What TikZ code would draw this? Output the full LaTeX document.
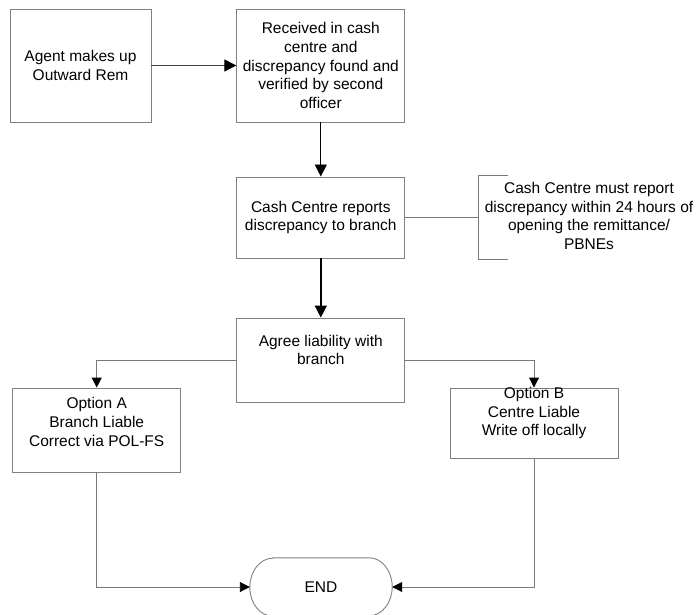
\documentclass[tikz,border=0pt]{standalone}
\usepackage{fontspec}
\setmainfont{Liberation Sans}
\usetikzlibrary{arrows.meta}
\definecolor{boxgray}{RGB}{128,128,128}
\definecolor{linegray}{RGB}{120,120,120}
\tikzset{
  box/.style={draw=boxgray, line width=0.9pt, minimum width=168pt, inner sep=0pt, align=center},
  txt/.style={inner sep=0pt, align=center},
  conn/.style={draw=linegray, line width=0.9pt},
  arr/.style={conn, -{Triangle[length=10pt,width=10pt,color=black]}},
  bigarr/.style={conn, -{Triangle[length=12pt,width=12pt,color=black]}},
}
\begin{document}
\begin{tikzpicture}[x=1pt,y=1pt, font=\fontsize{15.5}{18.8}\selectfont]
\useasboundingbox (0,0) rectangle (700,614);
% boxes
\node[box, minimum width=141pt, minimum height=113pt] (agent) at (80.5,548.5) {Agent makes up\\Outward Rem};
\node[box, minimum height=113pt] (recv) at (320.8,548.5) {Received in cash\\centre and\\discrepancy found and\\verified by second\\officer};
\node[box, minimum height=81pt] (cash) at (320.8,396.5) {Cash Centre reports\\discrepancy to branch};
\node[box, minimum height=84pt] (agree) at (320.8,254) {};
\node[txt] (agreet) at (320.8,264) {Agree liability with\\branch};
\node[box, minimum height=84pt] (opta) at (96.7,184) {};
\node[txt] (optat) at (96.7,192) {Option A\\Branch Liable\\Correct via POL-FS};
\node[box, minimum height=70pt] (optb) at (534,191) {};
\node[txt] (optbt) at (534,201) {Option B\\Centre Liable\\Write off locally};
% END terminal
\node[minimum width=142pt, minimum height=58pt, inner sep=0pt] (end) at (321,27) {END};
\draw[boxgray, line width=0.9pt] ([xshift=23pt]end.north west) -- ([xshift=-23pt]end.north east)
  arc[start angle=90, end angle=-90, x radius=23pt, y radius=29pt]
  -- ([xshift=23pt]end.south west)
  arc[start angle=270, end angle=90, x radius=23pt, y radius=29pt] -- cycle;
% annotation
\coordinate (bt) at (508,439);
\coordinate (bl) at (478,396.5);
\coordinate (bb) at (508,355);
\draw[conn] (bt) -- (bt -| bl) -- (bb -| bl) -- (bb);
\node[txt] (note) at (589,398) {Cash Centre must report\\discrepancy within 24 hours of\\opening the remittance/\\PBNEs};
% connectors
\draw[bigarr, draw=black!75] (agent.east) -- (recv.west);
\draw[bigarr, draw=black] (recv.south) -- (cash.north);
\draw[conn] (cash.east) -- (bl);
\draw[bigarr, draw=black, line width=1.4pt] (cash.south) -- (agree.north);
\draw[arr] (agree.west) -| (opta.north);
\draw[arr] (agree.east) -| (optb.north);
\draw[arr] (opta.south) |- (end.west);
\draw[arr] (optb.south) |- (end.east);
\end{tikzpicture}
\end{document}
